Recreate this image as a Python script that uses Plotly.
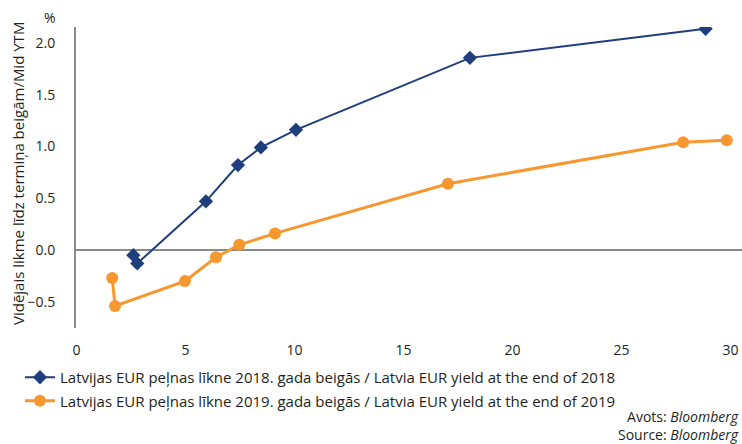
import plotly.graph_objects as go

# Latvia EUR yield curve, end of 2018 (years to maturity, Mid YTM %)
mat_2018 = [2.61, 2.79, 5.94, 7.41, 8.46, 10.07, 18.05, 28.86]
ytm_2018 = [-0.05, -0.13, 0.47, 0.82, 0.99, 1.16, 1.855, 2.135]

# Latvia EUR yield curve, end of 2019
mat_2019 = [1.64, 1.77, 4.98, 6.40, 7.47, 9.11, 17.04, 27.83, 29.83]
ytm_2019 = [-0.27, -0.54, -0.30, -0.07, 0.05, 0.16, 0.64, 1.04, 1.06]

name_2018 = "Latvijas EUR peļnas līkne 2018. gada beigās / Latvia EUR yield at the end of 2018"
name_2019 = "Latvijas EUR peļnas līkne 2019. gada beigās / Latvia EUR yield at the end of 2019"
y_title = "Vidējais likme līdz termiņa beigām/Mid YTM"
source_text = "Avots: <i>Bloomberg</i><br>Source: <i>Bloomberg</i>"
x_ticks = [0, 5, 10, 15, 20, 25, 30]
y_ticks = [-0.5, 0.0, 0.5, 1.0, 1.5, 2.0]

BLUE = "#1f3e7c"
ORANGE = "#f7972f"
AXIS = "#8a8a8a"
TEXT = "#231f20"
FONT = "Open Sans"

W, H = 742, 444
L, R, T, B = 76, 0, 27, 116
pw = W - L - R
ph = H - T - B

def px(xpix):
    return (xpix - L) / pw

def py(ypix):
    return (H - B - ypix) / ph

fig = go.Figure()
fig.add_trace(go.Scatter(
    x=mat_2018, y=ytm_2018, name=name_2018, mode="lines+markers",
    line=dict(color=BLUE, width=2),
    marker=dict(symbol="diamond", size=11, color=BLUE),
    legendgroup="a",
))
fig.add_trace(go.Scatter(
    x=mat_2019, y=ytm_2019, name=name_2019, mode="lines+markers",
    line=dict(color=ORANGE, width=3),
    marker=dict(symbol="circle", size=12, color=ORANGE),
    legendgroup="b",
))

fig.update_layout(
    width=W, height=H,
    margin=dict(l=L, r=R, t=T, b=B),
    paper_bgcolor="white", plot_bgcolor="white",
    font=dict(family=FONT, size=14, color=TEXT),
    showlegend=True,
    legend=dict(
        x=px(20), y=py(361), xanchor="left", yanchor="top",
        orientation="v", traceorder="grouped", tracegroupgap=1,
        font=dict(family=FONT, size=15, color=TEXT),
        bgcolor="rgba(0,0,0,0)",
    ),
    xaxis=dict(
        range=[-0.02, 30.53], tickvals=x_ticks, ticks="", showgrid=False,
        showline=False, zeroline=False, ticklabelstandoff=12,
        tickfont=dict(size=14),
    ),
    yaxis=dict(
        range=[-0.753, 2.153], tickvals=y_ticks, tickformat=".1f",
        ticks="", showgrid=False, showline=True, linecolor=AXIS, linewidth=2,
        zeroline=True, zerolinecolor=AXIS, zerolinewidth=2,
        ticklabelstandoff=16, tickfont=dict(size=14),
    ),
    annotations=[
        dict(text="%", x=px(50), y=py(17), xref="paper", yref="paper",
             xanchor="center", yanchor="middle", showarrow=False,
             font=dict(size=14)),
        dict(text=y_title, x=px(18), y=py(174), xref="paper", yref="paper",
             xanchor="center", yanchor="middle", textangle=-90,
             showarrow=False, font=dict(size=15)),
        dict(text=source_text, x=px(741), y=py(425), align="right",
             xref="paper", yref="paper", xanchor="right", yanchor="middle",
             showarrow=False, font=dict(size=14)),
    ],
)

fig.write_html("out.html")
